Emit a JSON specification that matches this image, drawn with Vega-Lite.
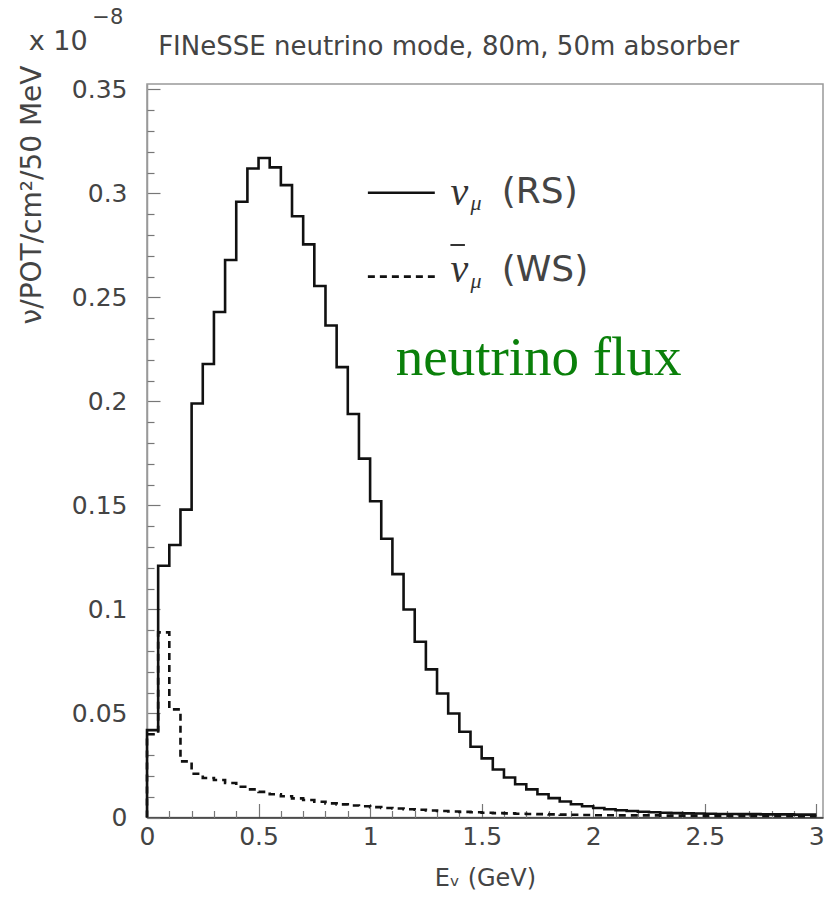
{
  "$schema": "https://vega.github.io/schema/vega-lite/v6.json",
  "width": 676,
  "height": 733.5,
  "autosize": {"type": "none"},
  "padding": {"left": 147, "top": 84, "right": 1, "bottom": 82},
  "background": "white",
  "config": {
    "view": {"stroke": "#999999", "strokeWidth": 1.5},
    "font": "DejaVu Sans"
  },
  "data": {
    "values": [
      {"E": 0.00, "flux": 0.0, "s": "RS"},
      {"E": 0.00, "flux": 0.042, "s": "RS"},
      {"E": 0.05, "flux": 0.121, "s": "RS"},
      {"E": 0.10, "flux": 0.131, "s": "RS"},
      {"E": 0.15, "flux": 0.148, "s": "RS"},
      {"E": 0.20, "flux": 0.199, "s": "RS"},
      {"E": 0.25, "flux": 0.218, "s": "RS"},
      {"E": 0.30, "flux": 0.243, "s": "RS"},
      {"E": 0.35, "flux": 0.268, "s": "RS"},
      {"E": 0.40, "flux": 0.296, "s": "RS"},
      {"E": 0.45, "flux": 0.312, "s": "RS"},
      {"E": 0.50, "flux": 0.317, "s": "RS"},
      {"E": 0.55, "flux": 0.3125, "s": "RS"},
      {"E": 0.60, "flux": 0.304, "s": "RS"},
      {"E": 0.65, "flux": 0.289, "s": "RS"},
      {"E": 0.70, "flux": 0.2755, "s": "RS"},
      {"E": 0.75, "flux": 0.2555, "s": "RS"},
      {"E": 0.80, "flux": 0.2365, "s": "RS"},
      {"E": 0.85, "flux": 0.2165, "s": "RS"},
      {"E": 0.90, "flux": 0.194, "s": "RS"},
      {"E": 0.95, "flux": 0.1725, "s": "RS"},
      {"E": 1.00, "flux": 0.152, "s": "RS"},
      {"E": 1.05, "flux": 0.134, "s": "RS"},
      {"E": 1.10, "flux": 0.117, "s": "RS"},
      {"E": 1.15, "flux": 0.100, "s": "RS"},
      {"E": 1.20, "flux": 0.0845, "s": "RS"},
      {"E": 1.25, "flux": 0.0712, "s": "RS"},
      {"E": 1.30, "flux": 0.0596, "s": "RS"},
      {"E": 1.35, "flux": 0.050, "s": "RS"},
      {"E": 1.40, "flux": 0.0412, "s": "RS"},
      {"E": 1.45, "flux": 0.034, "s": "RS"},
      {"E": 1.50, "flux": 0.0284, "s": "RS"},
      {"E": 1.55, "flux": 0.0231, "s": "RS"},
      {"E": 1.60, "flux": 0.0192, "s": "RS"},
      {"E": 1.65, "flux": 0.016, "s": "RS"},
      {"E": 1.70, "flux": 0.0135, "s": "RS"},
      {"E": 1.75, "flux": 0.0112, "s": "RS"},
      {"E": 1.80, "flux": 0.0093, "s": "RS"},
      {"E": 1.85, "flux": 0.0077, "s": "RS"},
      {"E": 1.90, "flux": 0.0064, "s": "RS"},
      {"E": 1.95, "flux": 0.0054, "s": "RS"},
      {"E": 2.00, "flux": 0.0046, "s": "RS"},
      {"E": 2.05, "flux": 0.0040, "s": "RS"},
      {"E": 2.10, "flux": 0.0035, "s": "RS"},
      {"E": 2.15, "flux": 0.0031, "s": "RS"},
      {"E": 2.20, "flux": 0.0028, "s": "RS"},
      {"E": 2.25, "flux": 0.0025, "s": "RS"},
      {"E": 2.30, "flux": 0.0023, "s": "RS"},
      {"E": 2.35, "flux": 0.0021, "s": "RS"},
      {"E": 2.40, "flux": 0.0020, "s": "RS"},
      {"E": 2.45, "flux": 0.0019, "s": "RS"},
      {"E": 2.50, "flux": 0.0018, "s": "RS"},
      {"E": 2.55, "flux": 0.0017, "s": "RS"},
      {"E": 2.60, "flux": 0.0017, "s": "RS"},
      {"E": 2.65, "flux": 0.0016, "s": "RS"},
      {"E": 2.70, "flux": 0.0016, "s": "RS"},
      {"E": 2.75, "flux": 0.0015, "s": "RS"},
      {"E": 2.80, "flux": 0.0015, "s": "RS"},
      {"E": 2.85, "flux": 0.0015, "s": "RS"},
      {"E": 2.90, "flux": 0.0014, "s": "RS"},
      {"E": 2.95, "flux": 0.0014, "s": "RS"},
      {"E": 3.00, "flux": 0.0014, "s": "RS"},
      {"E": 0.00, "flux": 0.0, "s": "WS"},
      {"E": 0.00, "flux": 0.040, "s": "WS"},
      {"E": 0.05, "flux": 0.089, "s": "WS"},
      {"E": 0.10, "flux": 0.052, "s": "WS"},
      {"E": 0.15, "flux": 0.027, "s": "WS"},
      {"E": 0.20, "flux": 0.021, "s": "WS"},
      {"E": 0.25, "flux": 0.019, "s": "WS"},
      {"E": 0.30, "flux": 0.018, "s": "WS"},
      {"E": 0.35, "flux": 0.0166, "s": "WS"},
      {"E": 0.40, "flux": 0.0148, "s": "WS"},
      {"E": 0.45, "flux": 0.0135, "s": "WS"},
      {"E": 0.50, "flux": 0.0123, "s": "WS"},
      {"E": 0.55, "flux": 0.0112, "s": "WS"},
      {"E": 0.60, "flux": 0.0102, "s": "WS"},
      {"E": 0.65, "flux": 0.0092, "s": "WS"},
      {"E": 0.70, "flux": 0.0084, "s": "WS"},
      {"E": 0.75, "flux": 0.0076, "s": "WS"},
      {"E": 0.80, "flux": 0.0068, "s": "WS"},
      {"E": 0.85, "flux": 0.0063, "s": "WS"},
      {"E": 0.90, "flux": 0.0058, "s": "WS"},
      {"E": 0.95, "flux": 0.0054, "s": "WS"},
      {"E": 1.00, "flux": 0.0050, "s": "WS"},
      {"E": 1.05, "flux": 0.0046, "s": "WS"},
      {"E": 1.10, "flux": 0.0043, "s": "WS"},
      {"E": 1.15, "flux": 0.0040, "s": "WS"},
      {"E": 1.20, "flux": 0.0037, "s": "WS"},
      {"E": 1.25, "flux": 0.0034, "s": "WS"},
      {"E": 1.30, "flux": 0.0031, "s": "WS"},
      {"E": 1.35, "flux": 0.0029, "s": "WS"},
      {"E": 1.40, "flux": 0.0027, "s": "WS"},
      {"E": 1.45, "flux": 0.0025, "s": "WS"},
      {"E": 1.50, "flux": 0.0023, "s": "WS"},
      {"E": 1.55, "flux": 0.0021, "s": "WS"},
      {"E": 1.60, "flux": 0.0020, "s": "WS"},
      {"E": 1.65, "flux": 0.0018, "s": "WS"},
      {"E": 1.70, "flux": 0.0017, "s": "WS"},
      {"E": 1.75, "flux": 0.0016, "s": "WS"},
      {"E": 1.80, "flux": 0.0015, "s": "WS"},
      {"E": 1.85, "flux": 0.0014, "s": "WS"},
      {"E": 1.90, "flux": 0.0013, "s": "WS"},
      {"E": 1.95, "flux": 0.0012, "s": "WS"},
      {"E": 2.00, "flux": 0.0011, "s": "WS"},
      {"E": 2.05, "flux": 0.0011, "s": "WS"},
      {"E": 2.10, "flux": 0.0010, "s": "WS"},
      {"E": 2.20, "flux": 0.0010, "s": "WS"},
      {"E": 2.30, "flux": 0.0009, "s": "WS"},
      {"E": 2.40, "flux": 0.0009, "s": "WS"},
      {"E": 2.50, "flux": 0.0008, "s": "WS"},
      {"E": 2.60, "flux": 0.0008, "s": "WS"},
      {"E": 2.70, "flux": 0.0007, "s": "WS"},
      {"E": 2.80, "flux": 0.0007, "s": "WS"},
      {"E": 2.90, "flux": 0.0006, "s": "WS"},
      {"E": 3.00, "flux": 0.0006, "s": "WS"}
    ]
  },
  "layer": [
    {
      "mark": {"type": "line", "interpolate": "step-after", "strokeWidth": 2.6, "color": "#111111"},
      "encoding": {
        "x": {
          "field": "E", "type": "quantitative",
          "scale": {"domain": [0, 3.03], "nice": false, "zero": false},
          "axis": {
            "values": [0, 0.5, 1, 1.5, 2, 2.5, 3],
            "labelExpr": "datum.value == 0 ? '0' : format(datum.value, '')",
            "title": "Eᵥ (GeV)",
            "titleFont": "DejaVu Sans", "titleFontSize": 24, "titleFontWeight": "normal", "titleColor": "#444444",
            "titlePadding": 17,
            "grid": false,
            "domainColor": "#333333", "domainWidth": 1.6,
            "tickColor": "#777777", "tickSize": -14, "tickWidth": 1.2,
            "labelPadding": 21, "labelFontSize": 25, "labelColor": "#444444", "labelFont": "DejaVu Sans",
            "labelFlush": false, "labelBound": false
          }
        },
        "y": {
          "field": "flux", "type": "quantitative",
          "scale": {"domain": [0, 0.3526], "nice": false, "zero": true},
          "axis": {
            "values": [0, 0.05, 0.1, 0.15, 0.2, 0.25, 0.3, 0.35],
            "labelExpr": "datum.value == 0 ? '0' : format(datum.value, '')",
            "title": "ν/POT/cm²/50 MeV",
            "titleFont": "DejaVu Sans", "titleFontSize": 28, "titleFontWeight": "normal", "titleColor": "#444444",
            "titleAnchor": "end", "titlePadding": 25, "titleY": -19,
            "grid": false,
            "domainColor": "#999999", "domainWidth": 1.5,
            "tickColor": "#777777", "tickSize": -13, "tickWidth": 1.2,
            "labelPadding": 33, "labelFontSize": 25, "labelColor": "#444444", "labelFont": "DejaVu Sans",
            "labelFlush": false, "labelBound": false
          }
        },
        "strokeDash": {
          "field": "s", "type": "nominal",
          "scale": {"domain": ["RS", "WS"], "range": [[1, 0], [7, 5]]},
          "legend": null
        }
      }
    },
    {
      "mark": {"type": "point", "opacity": 0},
      "encoding": {
        "x": {
          "field": "E", "type": "quantitative",
          "scale": {"domain": [0, 3.03], "nice": false, "zero": false},
          "axis": {
            "orient": "bottom",
            "values": [0.1, 0.2, 0.3, 0.4, 0.6, 0.7, 0.8, 0.9, 1.1, 1.2, 1.3, 1.4, 1.6, 1.7, 1.8, 1.9, 2.1, 2.2, 2.3, 2.4, 2.6, 2.7, 2.8, 2.9],
            "labels": false, "domain": false, "grid": false, "title": null,
            "tickColor": "#777777", "tickSize": -7, "tickWidth": 1.2
          }
        },
        "y": {
          "field": "flux", "type": "quantitative",
          "scale": {"domain": [0, 0.3526], "nice": false, "zero": true},
          "axis": {
            "orient": "left",
            "values": [0.01, 0.02, 0.03, 0.04, 0.06, 0.07, 0.08, 0.09, 0.11, 0.12, 0.13, 0.14, 0.16, 0.17, 0.18, 0.19, 0.21, 0.22, 0.23, 0.24, 0.26, 0.27, 0.28, 0.29, 0.31, 0.32, 0.33, 0.34],
            "labels": false, "domain": false, "grid": false, "title": null,
            "tickColor": "#777777", "tickSize": -7, "tickWidth": 1.2
          }
        }
      }
    },
    {
      "data": {"values": [{"s": "RS", "x0": 0.99, "x1": 1.29, "yv": 0.3003}, {"s": "WS", "x0": 0.99, "x1": 1.29, "yv": 0.260}]},
      "mark": {"type": "rule", "strokeWidth": 2.6, "color": "#111111"},
      "encoding": {
        "x": {"field": "x0", "type": "quantitative", "scale": {"domain": [0, 3.03], "nice": false, "zero": false}, "axis": null},
        "x2": {"field": "x1"},
        "y": {"field": "yv", "type": "quantitative", "scale": {"domain": [0, 0.3526], "nice": false, "zero": true}, "axis": null},
        "strokeDash": {"field": "s", "type": "nominal", "scale": {"domain": ["RS", "WS"], "range": [[1, 0], [7, 5]]}, "legend": null}
      }
    },
    {
      "data": {"values": [{}]},
      "mark": {"type": "rule", "strokeWidth": 2, "color": "#333333"},
      "encoding": {
        "x": {"datum": 1.36, "type": "quantitative", "scale": {"domain": [0, 3.03], "nice": false, "zero": false}, "axis": null},
        "x2": {"datum": 1.425},
        "y": {"datum": 0.2752, "type": "quantitative", "scale": {"domain": [0, 0.3526], "nice": false, "zero": true}, "axis": null}
      }
    },
    {
      "data": {"values": [
        {"t": "ν", "tx": 1.36, "ty": 0.3003},
        {"t": "ν", "tx": 1.36, "ty": 0.2632}
      ]},
      "mark": {"type": "text", "align": "left", "baseline": "middle", "font": "Liberation Serif", "fontStyle": "italic", "fontSize": 40, "color": "#333333"},
      "encoding": {
        "x": {"field": "tx", "type": "quantitative", "scale": {"domain": [0, 3.03], "nice": false, "zero": false}, "axis": null},
        "y": {"field": "ty", "type": "quantitative", "scale": {"domain": [0, 0.3526], "nice": false, "zero": true}, "axis": null},
        "text": {"field": "t"}
      }
    },
    {
      "data": {"values": [
        {"t": "μ", "tx": 1.45, "ty": 0.2954},
        {"t": "μ", "tx": 1.45, "ty": 0.258}
      ]},
      "mark": {"type": "text", "align": "left", "baseline": "middle", "font": "Liberation Serif", "fontStyle": "italic", "fontSize": 22, "color": "#333333"},
      "encoding": {
        "x": {"field": "tx", "type": "quantitative", "scale": {"domain": [0, 3.03], "nice": false, "zero": false}, "axis": null},
        "y": {"field": "ty", "type": "quantitative", "scale": {"domain": [0, 0.3526], "nice": false, "zero": true}, "axis": null},
        "text": {"field": "t"}
      }
    },
    {
      "data": {"values": [
        {"t": "(RS)", "tx": 1.59, "ty": 0.3005},
        {"t": "(WS)", "tx": 1.59, "ty": 0.2632}
      ]},
      "mark": {"type": "text", "align": "left", "baseline": "middle", "font": "DejaVu Sans", "fontSize": 36, "color": "#444444"},
      "encoding": {
        "x": {"field": "tx", "type": "quantitative", "scale": {"domain": [0, 3.03], "nice": false, "zero": false}, "axis": null},
        "y": {"field": "ty", "type": "quantitative", "scale": {"domain": [0, 0.3526], "nice": false, "zero": true}, "axis": null},
        "text": {"field": "t"}
      }
    },
    {
      "data": {"values": [{"t": "neutrino flux", "tx": 1.115, "ty": 0.2127}]},
      "mark": {"type": "text", "align": "left", "baseline": "alphabetic", "font": "Liberation Serif", "fontSize": 55, "color": "#0a800a"},
      "encoding": {
        "x": {"field": "tx", "type": "quantitative", "scale": {"domain": [0, 3.03], "nice": false, "zero": false}, "axis": null},
        "y": {"field": "ty", "type": "quantitative", "scale": {"domain": [0, 0.3526], "nice": false, "zero": true}, "axis": null},
        "text": {"field": "t"}
      }
    },
    {
      "data": {"values": [{"t": "FINeSSE neutrino mode, 80m, 50m absorber", "tx": 0.05, "ty": 0.3704}]},
      "mark": {"type": "text", "align": "left", "baseline": "middle", "font": "DejaVu Sans", "fontSize": 26, "color": "#444444"},
      "encoding": {
        "x": {"field": "tx", "type": "quantitative", "scale": {"domain": [0, 3.03], "nice": false, "zero": false}, "axis": null},
        "y": {"field": "ty", "type": "quantitative", "scale": {"domain": [0, 0.3526], "nice": false, "zero": true}, "axis": null},
        "text": {"field": "t"}
      }
    },
    {
      "data": {"values": [{"t": "x 10", "tx": -0.53, "ty": 0.3728}]},
      "mark": {"type": "text", "align": "left", "baseline": "middle", "font": "DejaVu Sans", "fontSize": 27, "color": "#444444"},
      "encoding": {
        "x": {"field": "tx", "type": "quantitative", "scale": {"domain": [0, 3.03], "nice": false, "zero": false}, "axis": null},
        "y": {"field": "ty", "type": "quantitative", "scale": {"domain": [0, 0.3526], "nice": false, "zero": true}, "axis": null},
        "text": {"field": "t"}
      }
    },
    {
      "data": {"values": [{"t": "−8", "tx": -0.245, "ty": 0.3845}]},
      "mark": {"type": "text", "align": "left", "baseline": "middle", "font": "DejaVu Sans", "fontSize": 21, "color": "#444444"},
      "encoding": {
        "x": {"field": "tx", "type": "quantitative", "scale": {"domain": [0, 3.03], "nice": false, "zero": false}, "axis": null},
        "y": {"field": "ty", "type": "quantitative", "scale": {"domain": [0, 0.3526], "nice": false, "zero": true}, "axis": null},
        "text": {"field": "t"}
      }
    }
  ],
  "resolve": {"axis": {"x": "independent", "y": "independent"}}
}
